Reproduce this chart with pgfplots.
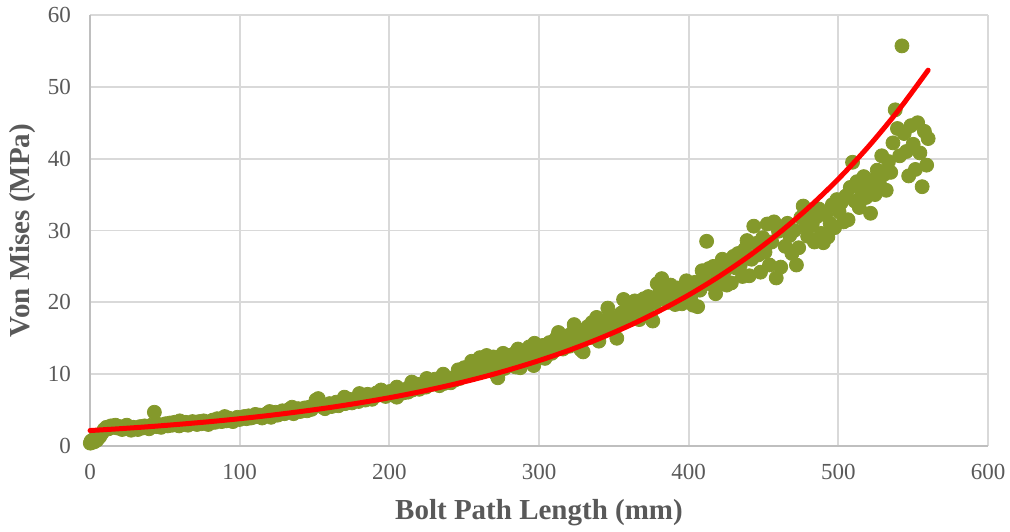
\documentclass[border=0pt]{standalone}
\usepackage{fontspec}
\setmainfont{Liberation Serif}
\usepackage{pgfplots}
\pgfplotsset{compat=1.18}
\definecolor{myolive}{HTML}{84992B}
\definecolor{gridgray}{HTML}{D9D9D9}
\definecolor{axisgray}{HTML}{BFBFBF}
\definecolor{labelgray}{HTML}{595959}
\begin{document}
\begin{tikzpicture}
\useasboundingbox (-45pt,-42.5pt) rectangle (460pt,223pt);
\begin{axis}[
 scale only axis, width=449pt, height=215.5pt,
 xmin=0,xmax=600,ymin=0,ymax=60,
 xtick={0,100,...,600}, ytick={0,10,...,60},
 grid=major, major grid style={draw=gridgray, line width=0.9pt},
 axis x line*=bottom, axis y line*=left,
 axis line style={-, draw=axisgray, line width=1pt},
 major tick length=0pt,
 tick label style={font=\fontsize{11.5}{13}\selectfont, text=labelgray},
 /pgf/number format/assume math mode=true,
 xticklabel style={yshift=-5.5pt},
 yticklabel style={xshift=-6pt},
 xlabel={Bolt Path Length (mm)}, ylabel={Von Mises (MPa)},
 every axis x label/.style={at={(axis description cs:0.5,0)}, anchor=center, yshift=-33.5pt, font=\fontsize{14.5}{17}\selectfont\bfseries, text=labelgray},
 every axis y label/.style={at={(axis description cs:0,0.5)}, xshift=-33.5pt, anchor=center, rotate=90, font=\fontsize{14.5}{17}\selectfont\bfseries, text=labelgray},
 clip=false, clip marker paths=true,
]
\addplot[only marks, mark=*, mark size=3.5pt, color=myolive, mark options={fill=myolive, draw=none}] coordinates {
(0.2,0.4)(0.8,0.7)(1.5,0.5)(2.2,0.9)(3,0.6)(3.8,1.0)(4.5,0.8)(5.5,1.1)(6.5,1.3)(8,1.8)(9.5,2.3)(11,2.6)(12.5,2.4)(14,2.8)(15.5,2.6)(17,2.9)(18.5,2.5)(20,2.7)(21.5,2.3)(23,2.6)(24.5,2.9)(26,2.4)(27.5,2.2)(29,2.6)(30.5,2.5)(32,2.3)(33.5,2.7)(35,2.5)(36.5,2.8)(38,2.6)(39.5,2.4)(41,2.9)(43,4.7)(44.5,2.7)(46,3.0)(47.5,2.6)(49,2.9)(50.5,3.1)(52,2.8)(53.5,3.2)(55,2.9)(56.5,3.3)(58,3.0)(59.5,2.8)(61,3.2)(62.5,3.0)(64,3.3)(65.5,2.9)(67,3.1)(68.5,3.4)(70,3.2)(71.5,3.0)(73,3.4)(74.5,3.1)(76,3.5)(77.5,3.3)(79,3.0)(80.5,3.4)(82,3.6)(83.5,3.3)(85,3.8)(86.5,3.5)(88,3.4)(89.5,3.7)(91,3.5)(92.5,3.9)(94,3.6)(95.5,3.4)(97,3.8)(98.5,4.0)(100,3.7)(101.5,3.9)(103,4.1)(104.5,3.8)(106,4.2)(107.5,3.9)(109,4.0)(110.5,4.4)(112,4.1)(113.5,4.3)(115,3.9)(116.5,4.2)(118,4.5)(119.5,4.2)(121,4.0)(122.5,4.4)(124,4.7)(125.5,4.3)(127,4.6)(128.5,4.9)(130,4.5)(131.5,4.8)(133,5.1)(134.5,4.7)(136,4.5)(137.5,4.9)(139,5.2)(140.5,4.8)(142,5.0)(143.5,5.3)(145,4.9)(146.5,5.4)(148,5.1)(149.5,5.6)(151,6.4)(152.5,6.6)(154,5.8)(155.5,5.4)(157,5.2)(158.5,5.6)(160,5.9)(161.5,5.5)(163,5.8)(164.5,6.1)(166,5.6)(167.5,5.9)(169,6.3)(170.5,5.9)(172,6.1)(173.5,6.5)(175,6.0)(176.5,6.3)(178,6.6)(179.5,6.2)(181,6.5)(182.5,6.9)(184,6.4)(185.5,7.2)(187,6.8)(188.5,6.5)(190,7.0)(191.5,7.4)(193,7.1)(194.5,7.8)(196,7.3)(197.5,6.9)(199,7.2)(200.5,7.6)(202,7.1)(203.5,7.4)(205,6.8)(206.5,7.2)(208,7.7)(209.5,7.4)(211,7.9)(212.5,7.5)(214,8.3)(215.5,7.8)(217,8.1)(218.5,8.6)(220,7.9)(221.5,8.3)(223,8.7)(224.5,8.2)(226,8.5)(227.5,9.0)(229,8.6)(230.5,9.3)(232,8.8)(233.5,8.4)(235,9.1)(236.5,8.7)(238,9.4)(239.5,9.0)(241,8.8)(242.5,9.5)(244,9.2)(245.5,9.8)(247,9.4)(248.5,10.3)(250,10.9)(251.5,10.2)(253,11.0)(254.5,10.6)(256,11.3)(257.5,10.4)(259,11.8)(260.5,12.3)(262,11.2)(263.5,10.5)(265,11.6)(266.5,12.1)(268,11.0)(269.5,12.4)(271,10.1)(272.5,9.5)(274,11.4)(275.5,12.0)(277,10.8)(278.5,11.7)(280,12.6)(281.5,11.3)(283,12.8)(284.5,11.0)(286,12.2)(287.5,10.9)(289,12.5)(290.5,11.8)(292,13.3)(293.5,13.8)(295,12.4)(296.5,11.2)(298,13.0)(299.5,13.9)(301,12.6)(302.5,14.0)(304,12.2)(305.5,13.3)(307,14.4)(308.5,12.9)(310,13.7)(311.5,15.0)(313,15.8)(314.5,14.2)(316,13.5)(317.5,15.3)(319,14.6)(320.5,13.9)(322,15.7)(323.5,16.9)(325,16.3)(326.5,14.8)(328,13.4)(329.5,13.1)(331,15.4)(332.5,16.6)(334,15.1)(335.5,17.2)(337,16.0)(338.5,17.9)(340,14.6)(341.5,15.8)(343,16.8)(344.5,17.5)(346,19.2)(347.5,18.0)(349,16.3)(350.5,17.6)(352,15.0)(353.5,17.0)(355,18.5)(356.5,20.4)(358,19.0)(359.5,17.8)(361,19.5)(362.5,18.3)(364,20.2)(365.5,19.1)(367,17.6)(368.5,18.7)(370,20.5)(371.5,19.4)(373,20.8)(374.5,18.0)(376,17.4)(377.5,19.9)(379,22.6)(380.5,21.3)(382,23.3)(383.5,20.6)(385,21.8)(386.5,20.0)(388,22.4)(389.5,21.0)(391,19.7)(392.5,22.0)(394,20.7)(395.5,19.8)(397,21.5)(398.5,23.0)(400,22.1)(401.5,20.4)(403,19.6)(404.5,22.8)(406,19.4)(407.5,21.7)(409,24.4)(410.5,23.2)(412,28.5)(413.5,24.7)(415,22.5)(416.5,25.0)(418,21.2)(419.5,23.8)(421,22.9)(422.5,26.0)(424,24.3)(425.5,22.4)(427,25.5)(428.5,22.7)(430,26.4)(431.5,24.8)(433,26.8)(434.5,25.2)(436,23.6)(437.5,27.4)(439,28.6)(440.5,23.7)(442,26.0)(443.5,30.6)(445,28.2)(446.5,26.6)(448,24.2)(449.5,29.0)(451,27.0)(452.5,30.9)(454,25.2)(455.5,28.4)(457,31.2)(458.5,23.4)(460,29.9)(461.5,24.9)(463,30.5)(464.5,27.8)(466,31.0)(467.5,29.3)(469,26.8)(470.5,30.0)(472,25.2)(473.5,27.6)(475,31.8)(476.5,33.4)(478,30.5)(479.5,29.2)(481,32.3)(482.5,30.8)(484,28.4)(485.5,31.9)(487,33.0)(488.5,29.6)(490,28.3)(491.5,32.2)(493,29.1)(494.5,31.0)(496,33.6)(497.5,30.4)(499,34.3)(500.5,32.6)(502,33.9)(503.5,31.2)(505,34.8)(506.5,31.5)(508,36.0)(509.5,39.5)(511,34.1)(512.5,36.8)(514,33.2)(515.5,35.5)(517,37.5)(518.5,34.6)(520,36.2)(521.5,32.4)(523,37.0)(524.5,35.0)(526,38.4)(527.5,36.5)(529,40.4)(530.5,37.8)(532,35.6)(533.5,39.6)(535,38.1)(536.5,42.2)(538,46.8)(539.5,44.2)(541,40.4)(542.5,55.7)(544,43.5)(545.5,41.0)(547,37.6)(548.5,44.6)(550,42.0)(551.5,38.5)(553,45.0)(554.5,40.8)(556,36.1)(557.5,43.8)(559,39.1)(560,42.8)
(205,8.2)(215,8.9)(225,9.4)(236,10.0)(246,10.6)(255,11.8)(265,12.6)(276,12.9)(286,13.5)(297,14.3)(170,6.8)(180,7.3)(120,4.8)(135,5.4)(60,3.5)(90,4.1)
};
\addplot[color=red, line width=2.5pt, smooth, line cap=round] coordinates {
(0,2.15)(20,2.41)(40,2.70)(60,3.03)(80,3.39)(100,3.80)(120,4.26)(140,4.78)(160,5.35)(180,6.00)(200,6.72)(220,7.53)(240,8.44)(260,9.46)(280,10.61)(300,11.89)(320,13.32)(340,14.93)(360,16.73)(380,18.76)(400,21.02)(420,23.56)(440,26.40)(460,29.59)(480,33.16)(500,37.17)(520,41.66)(540,46.69)(560,52.32)
};
\end{axis}
\end{tikzpicture}
\end{document}
